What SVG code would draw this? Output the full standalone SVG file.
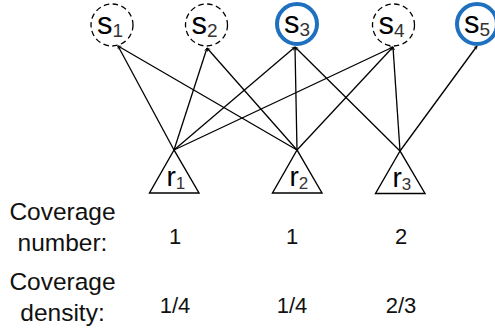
<svg xmlns="http://www.w3.org/2000/svg" width="495" height="335" viewBox="0 0 495 335">
  <defs>
    <marker id="tip" viewBox="0 0 10 10" refX="9" refY="5" markerWidth="4" markerHeight="4" markerUnits="userSpaceOnUse" orient="auto">
      <path d="M1,1 L9,5 L1,9" fill="none" stroke="#000" stroke-width="1.6"/>
    </marker>
  </defs>
  <style>
    text { font-family: "Liberation Sans", Arial, sans-serif; fill: #000; }
    .sens-idle { fill: #fff; stroke: #000; stroke-width: 1.3; stroke-dasharray: 5.5 3.5; }
    .sens-on { fill: #fff; stroke: #2070c0; stroke-width: 4; }
    .relay { fill: #fff; stroke: #000; stroke-width: 1.4; stroke-linejoin: miter; }
    .big { font-size: 31px; }
    .sub { font-size: 19px; fill: #333; }
    .rbig { font-size: 28px; }
    .rsub { font-size: 17px; fill: #333; }
    .lbl { font-size: 24.5px; text-anchor: middle; fill: #111; }
    .val { font-size: 22px; text-anchor: middle; fill: #111; }
    #links line { stroke: #000; stroke-width: 1.3; marker-end: url(#tip); }
  </style>

  <!-- coverage links: relay apex to sensor -->
  <g id="links">
    <line x1="174" y1="150" x2="118" y2="46"/>
    <line x1="297" y1="150" x2="118" y2="46"/>
    <line x1="174" y1="150" x2="207" y2="48"/>
    <line x1="297" y1="150" x2="207" y2="48"/>
    <line x1="174" y1="150" x2="295" y2="47"/>
    <line x1="297" y1="150" x2="295" y2="47"/>
    <line x1="400" y1="151" x2="295" y2="47"/>
    <line x1="174" y1="150" x2="393" y2="47"/>
    <line x1="297" y1="150" x2="393" y2="47"/>
    <line x1="400" y1="151" x2="393" y2="47"/>
    <line x1="400" y1="151" x2="477" y2="46"/>
  </g>

  <!-- sensors -->
  <g id="s1">
    <circle class="sens-idle" cx="112" cy="25" r="21"/>
    <text x="97" y="34"><tspan class="big">s</tspan><tspan class="sub" dy="3">1</tspan></text>
  </g>
  <g id="s2">
    <circle class="sens-idle" cx="206.5" cy="25" r="21"/>
    <text x="191.5" y="34"><tspan class="big">s</tspan><tspan class="sub" dy="3">2</tspan></text>
  </g>
  <g id="s3">
    <circle class="sens-on" cx="297" cy="24" r="20"/>
    <text x="284" y="33"><tspan class="big">s</tspan><tspan class="sub" dy="3">3</tspan></text>
  </g>
  <g id="s4">
    <circle class="sens-idle" cx="393.5" cy="25" r="21"/>
    <text x="378.5" y="34"><tspan class="big">s</tspan><tspan class="sub" dy="3">4</tspan></text>
  </g>
  <g id="s5">
    <circle class="sens-on" cx="477" cy="24" r="20"/>
    <text x="464" y="33"><tspan class="big">s</tspan><tspan class="sub" dy="3">5</tspan></text>
  </g>

  <!-- relays -->
  <g id="r1">
    <polygon class="relay" points="174,150 149.5,193 199,193"/>
    <text x="166.5" y="186"><tspan class="rbig">r</tspan><tspan class="rsub" dy="3">1</tspan></text>
  </g>
  <g id="r2">
    <polygon class="relay" points="297,150 272.5,193 322,193"/>
    <text x="289.5" y="186"><tspan class="rbig">r</tspan><tspan class="rsub" dy="3">2</tspan></text>
  </g>
  <g id="r3">
    <polygon class="relay" points="400,151 375.5,193.5 425,193.5"/>
    <text x="392.5" y="187"><tspan class="rbig">r</tspan><tspan class="rsub" dy="3">3</tspan></text>
  </g>

  <!-- metrics table -->
  <g id="metrics">
    <text class="lbl" x="62.5" y="220">Coverage</text>
    <text class="lbl" x="62.5" y="251">number:</text>
    <text class="val" x="175" y="244">1</text>
    <text class="val" x="292" y="244">1</text>
    <text class="val" x="401" y="244">2</text>
    <text class="lbl" x="62.5" y="290">Coverage</text>
    <text class="lbl" x="62.5" y="321">density:</text>
    <text class="val" x="175" y="313">1/4</text>
    <text class="val" x="292" y="313">1/4</text>
    <text class="val" x="401" y="313">2/3</text>
  </g>
</svg>
